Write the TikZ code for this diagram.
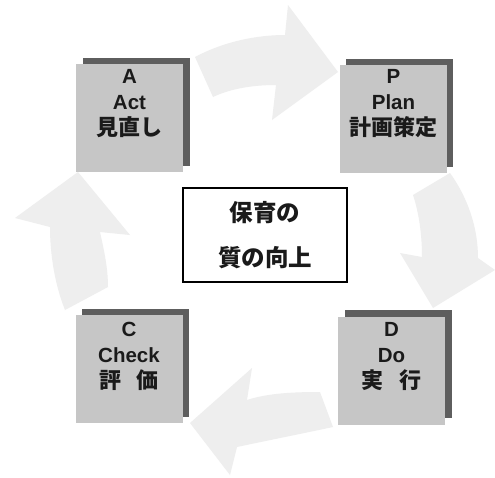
\documentclass[tikz,border=0pt]{standalone}
\usepackage{fontspec}
\setmainfont{Liberation Sans}
\newfontfamily\jp{Noto Sans CJK JP}
\definecolor{boxfill}{HTML}{C6C6C6}
\definecolor{boxshadow}{HTML}{5E5E5E}
\definecolor{arrowfill}{HTML}{EEEEEE}
\definecolor{ink}{HTML}{1A1A1A}
\newcommand{\jpl}[1]{{\jp\bfseries\fontsize{22}{26}\selectfont #1}}
\begin{document}
\begin{tikzpicture}[x=1pt,y=-1pt,
  phase/.style={fill=boxfill, draw=none, minimum width=107pt, minimum height=108pt, inner sep=0pt},
  shadowbox/.style={fill=boxshadow, draw=none, minimum width=107pt, minimum height=108pt, inner sep=0pt},
  phasetext/.style={text=ink, align=center, inner sep=0pt, font=\bfseries\fontsize{20.5}{26}\selectfont},
  bigarrow/.style={fill=arrowfill, draw=none},
  centerbox/.style={draw=black, line width=1.4pt, fill=white, minimum width=164pt, minimum height=94pt,
    align=center, text=ink, font=\jp\bfseries\fontsize{23.5}{45}\selectfont}
]
\useasboundingbox (0,0) rectangle (495,477);
\fill[white] (0,0) rectangle (495,477);

% circular arrows
\fill[bigarrow] (195,57) .. controls (225,41) and (258,35) .. (285,35) -- (288,5) -- (338,72)
  -- (272,120) -- (276,85) .. controls (255,85) and (232,88) .. (213,97) -- cycle;
\fill[bigarrow] (413,195) -- (450,173) .. controls (468,198) and (478,228) .. (478,258)
  -- (495,270) -- (433,308) -- (400,253) -- (422,257) .. controls (422,235) and (419,213) .. (413,195) -- cycle;
\fill[bigarrow] (333,427) -- (320,392) .. controls (295,392) and (268,393) .. (247,400)
  -- (252,368) -- (190,423) -- (230,475) -- (237,447) .. controls (270,440) and (305,433) .. (333,427) -- cycle;
\fill[bigarrow] (65,310) -- (108,287) .. controls (108,268) and (104,250) .. (100,232)
  -- (130,235) -- (78,172) -- (15,218) -- (50,227) .. controls (50,255) and (55,285) .. (65,310) -- cycle;

% phase boxes with shadows
\node[shadowbox] (Ash) at (136,112) {};
\node[phase] (A) at (129.5,118) {};
\node[phasetext, yshift=14pt] (Atext) at (A) {A\\Act\\\jpl{見直し}};
\node[shadowbox] (Psh) at (399.5,112.5) {};
\node[phase] (P) at (393.5,118.5) {};
\node[phasetext, yshift=15pt] (Ptext) at (P) {P\\Plan\\\jpl{計画策定}};
\node[shadowbox] (Csh) at (135.5,363) {};
\node[phase] (C) at (129,369) {};
\node[phasetext, yshift=13pt] (Ctext) at (C) {C\\Check\\\jpl{評\hspace{16pt}価}};
\node[shadowbox] (Dsh) at (398,364) {};
\node[phase] (D) at (391.5,371) {};
\node[phasetext, yshift=14pt] (Dtext) at (D) {D\\Do\\\jpl{実\hspace{16pt}行}};

% centre box
\node[centerbox] (Q) at (265,235) {保育の\\質の向上};
\end{tikzpicture}
\end{document}
